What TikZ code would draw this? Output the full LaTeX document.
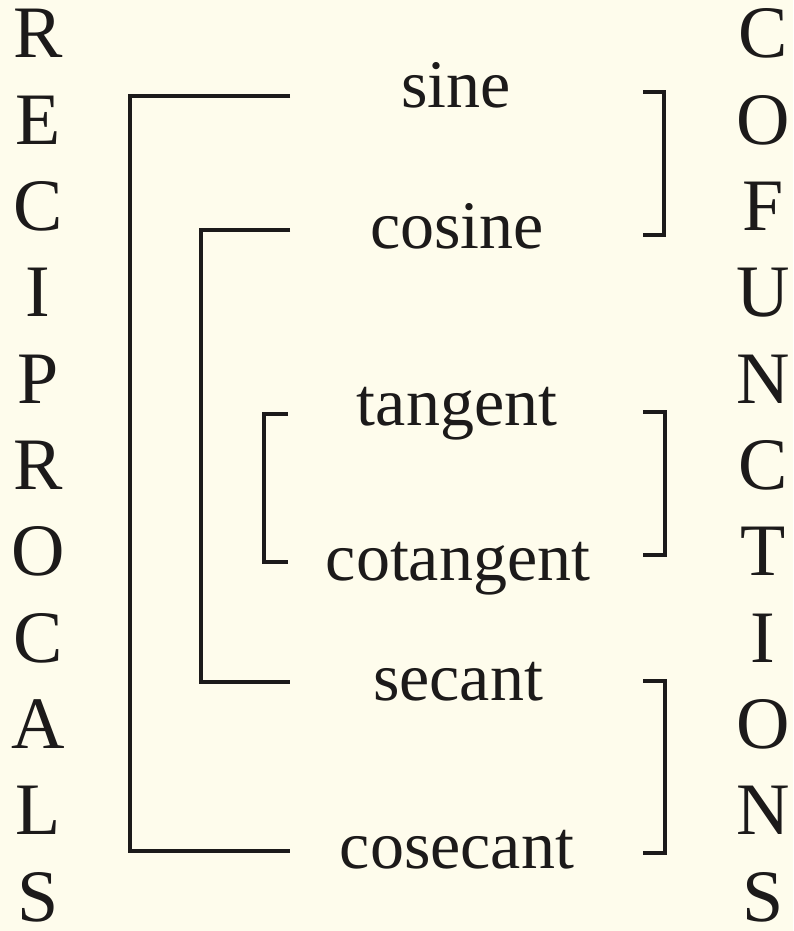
\documentclass[tikz,border=0pt]{standalone}
\usepackage{fontspec}
\setmainfont{Liberation Serif}
\definecolor{paper}{RGB}{254,252,236}
\definecolor{ink}{RGB}{28,26,26}
\begin{document}
\begin{tikzpicture}[x=1pt,y=-1pt,
  word/.style={anchor=base,inner sep=0pt,text=ink,font=\fontsize{68}{68}\selectfont},
  side/.style={anchor=base,inner sep=0pt,text=ink,font=\fontsize{74}{74}\selectfont},
  link/.style={draw=ink,line width=4.8pt,line cap=butt,line join=miter}]
\fill[paper] (0,0) rectangle (793,931);
\useasboundingbox (0,0) rectangle (793,931);

% vertical captions
\foreach \ch [count=\i from 0] in {R,E,C,I,P,R,O,C,A,L,S}
  \node[side] (rec\i) at (38,{58+86.3*\i}) {\ch};
\foreach \ch [count=\i from 0] in {C,O,F,U,N,C,T,I,O,N,S}
  \node[side] (cof\i) at (763,{58+86.3*\i}) {\ch};

% the six functions
\node[word] (sin) at (456,108) {sine};
\node[word] (cos) at (457,248) {cosine};
\node[word] (tan) at (457,425) {tangent};
\node[word] (cot) at (458,580) {cotangent};
\node[word] (sec) at (458,700) {secant};
\node[word] (csc) at (457,868) {cosecant};

% bracket ends
\coordinate (sinL) at (290,96);
\coordinate (cscL) at (290,851);
\coordinate (cosL) at (290,230);
\coordinate (secL) at (290,682);
\coordinate (tanL) at (288,414);
\coordinate (cotL) at (288,562);
\coordinate (sinR) at (643,92);
\coordinate (cosR) at (643,235);
\coordinate (tanR) at (643,412);
\coordinate (cotR) at (643,555);
\coordinate (secR) at (643,681);
\coordinate (cscR) at (643,853);

% reciprocal pairs
\draw[link] (sinL) -- (130,96) -- (130,851) -- (cscL);
\draw[link] (cosL) -- (201,230) -- (201,682) -- (secL);
\draw[link] (tanL) -- (264,414) -- (264,562) -- (cotL);

% cofunction pairs
\draw[link] (sinR) -- (664,92) -- (664,235) -- (cosR);
\draw[link] (tanR) -- (665,412) -- (665,555) -- (cotR);
\draw[link] (secR) -- (665,681) -- (665,853) -- (cscR);
\end{tikzpicture}
\end{document}
